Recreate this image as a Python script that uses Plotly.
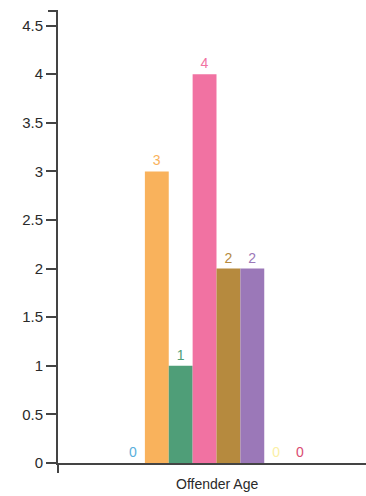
import plotly.graph_objects as go

category = ["Offender Age"]
series_names = ["s1", "s2", "s3", "s4", "s5", "s6", "s7", "s8"]
series_values = [0, 3, 1, 4, 2, 2, 0, 0]
series_colors = ["#5aafdc", "#f9b25c", "#4f9e78", "#f172a2", "#b68a3e", "#9b78b8", "#fbf0a6", "#d94c72"]
y_ticks = [0, 0.5, 1, 1.5, 2, 2.5, 3, 3.5, 4, 4.5]

fig = go.Figure()
for name, val, col in zip(series_names, series_values, series_colors):
    fig.add_trace(go.Bar(
        x=category, y=[val], name=name,
        marker=dict(color=col, line=dict(width=0)),
        text=[str(val)], textposition="outside",
        textfont=dict(color=col, size=14, family="Liberation Sans"),
        cliponaxis=False,
    ))

W = 366
H = 496
ml, mr, mt, mb = 58, 0, 11, 33
pw = W - ml - mr
ph = H - mt - mb

fig.update_layout(
    width=W, height=H,
    margin=dict(l=ml, r=mr, t=mt, b=mb),
    barmode="group", bargap=0.3975, bargroupgap=0,
    showlegend=False,
    plot_bgcolor="white", paper_bgcolor="white",
    font=dict(family="Liberation Sans", size=14, color="#333"),
    xaxis=dict(
        range=[-0.5, 0.4716], showticklabels=False, ticks="",
        showline=True, linecolor="#444", linewidth=1.5, showgrid=False,
        zeroline=False,
    ),
    yaxis=dict(
        range=[0, 4.65], tickvals=y_ticks, ticks="outside", ticklen=10,
        tickwidth=2, tickcolor="#444", showline=True, linecolor="#444",
        linewidth=2, showgrid=False, zeroline=False,
        tickfont=dict(size=15, color="#2a2a2a", family="Liberation Sans"),
    ),
    annotations=[dict(
        x=0, xref="x", y=-21 / ph, yref="paper", text="Offender Age",
        showarrow=False, font=dict(size=14, color="#2a2a2a"), yanchor="middle",
    )],
    shapes=[
        dict(type="line", xref="paper", yref="paper", x0=-10 / pw, x1=0,
             y0=1, y1=1, line=dict(color="#444", width=2)),
        dict(type="line", xref="paper", yref="paper", x0=0, x1=0,
             y0=0, y1=-10 / ph, line=dict(color="#444", width=2)),
    ],
)

fig.write_html(
    "out.html",
    config={"displayModeBar": False},
    post_script="document.body.style.margin='0';document.body.style.overflow='hidden';",
)
